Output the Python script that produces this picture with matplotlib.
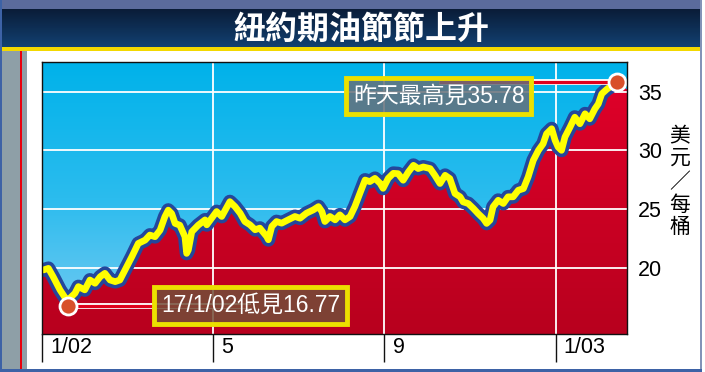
import numpy as np
import matplotlib.pyplot as plt
from matplotlib.patches import Rectangle
from matplotlib.colors import LinearSegmentedColormap
import matplotlib.transforms as mtrans


# data (x in months since Jan 2002)
months = [0.03, 0.15, 0.26, 0.42, 0.58, 0.65, 0.77, 0.85, 1.00, 1.12,
          1.24, 1.36, 1.47, 1.59, 1.71, 1.82, 1.94, 2.10, 2.25, 2.41,
          2.52, 2.64, 2.76, 2.87, 2.95, 3.03, 3.11, 3.22, 3.34, 3.38,
          3.42, 3.50, 3.65, 3.81, 3.85, 4.08, 4.20, 4.39, 4.51, 4.63,
          4.74, 4.86, 4.98, 5.09, 5.25, 5.29, 5.37, 5.48, 5.60, 5.75,
          5.91, 6.03, 6.18, 6.34, 6.46, 6.54, 6.61, 6.73, 6.85, 6.96,
          7.08, 7.20, 7.31, 7.43, 7.55, 7.66, 7.78, 7.90, 7.97, 8.09,
          8.21, 8.32, 8.44, 8.56, 8.68, 8.79, 8.91, 9.07, 9.18, 9.30,
          9.42, 9.53, 9.65, 9.77, 9.84, 9.96, 10.08, 10.19, 10.31, 10.39,
          10.47, 10.54, 10.66, 10.78, 10.89, 11.01, 11.13, 11.25, 11.36, 11.48,
          11.60, 11.71, 11.79, 11.91, 11.99, 12.06, 12.14, 12.22, 12.34, 12.45,
          12.57, 12.69, 12.80, 12.92, 13.00, 13.08, 13.20, 13.43]
price = [19.83, 19.97, 19.26, 18.14, 17.25, 17.43, 17.85, 18.42, 18.14, 18.98,
         18.70, 19.26, 19.55, 18.98, 18.84, 18.98, 19.83, 20.96, 22.09, 22.37,
         22.80, 22.66, 23.22, 24.35, 24.92, 24.63, 23.79, 23.64, 22.66, 21.24,
         21.53, 23.08, 23.64, 24.09, 23.67, 24.80, 24.38, 25.64, 25.22, 24.66,
         23.95, 23.67, 23.25, 23.39, 22.68, 22.40, 23.53, 23.95, 23.81, 24.09,
         24.38, 24.23, 24.66, 24.94, 25.22, 24.80, 23.95, 24.38, 24.09, 24.52,
         24.09, 24.38, 25.22, 26.36, 27.48, 27.34, 27.62, 27.20, 26.77, 27.62,
         28.05, 28.02, 27.46, 28.16, 28.73, 28.45, 28.59, 28.45, 27.88, 27.18,
         27.88, 27.60, 26.33, 26.05, 25.62, 25.48, 25.06, 24.63, 24.21, 23.79,
         24.07, 25.20, 25.76, 25.48, 26.05, 26.05, 26.61, 26.75, 27.74, 29.15,
         30.00, 30.56, 31.41, 31.84, 30.85, 30.28, 30.00, 31.13, 31.98, 32.82,
         32.26, 33.11, 32.68, 33.53, 33.95, 34.80, 35.20, 35.78]

x_ticks = [0, 4, 8, 12]
x_labels = ['1/02', '5', '9', '1/03']
y_ticks = [20, 25, 30, 35]

hi_point = (13.43, 35.78)
lo_point = (0.61, 16.77)
hi_text = '昨天最高見35.78'
lo_text = '17/1/02低見16.77'
title = '紐約期油節節上升'
unit_chars = ['美', '元', '／', '每', '桶']

W, H = 705, 372
fig = plt.figure(figsize=(W / 100, H / 100), dpi=100)
fig.patch.set_facecolor('white')


def px_rect(x, y, w, h, color, z=0):
    fig.add_artist(Rectangle((x / W, 1 - (y + h) / H), w / W, h / H,
                             transform=fig.transFigure, facecolor=color,
                             edgecolor='none', zorder=z))


# frame pieces
px_rect(0, 0, 700, 9, '#5b6b9c')
px_rect(0, 47, 700, 4, '#f3d800')
px_rect(2, 51, 25, 321, '#8e9fa7')
px_rect(19.5, 51, 2.2, 321, '#e8000c', z=1)
px_rect(0, 0, 2, 372, '#3d62a6', z=1)
px_rect(700, 0, 2, 372, '#8393b8', z=1)
px_rect(0, 369, 702, 3, '#3d62a6', z=1)

# title bar with gradient
ax_t = fig.add_axes([0, 1 - 47 / H, 700 / W, 38 / H])
navy = LinearSegmentedColormap.from_list('navy', ['#0a1c38', '#124171'])
ax_t.imshow(np.linspace(0, 1, 64).reshape(-1, 1), cmap=navy, aspect='auto')
ax_t.axis('off')
fig.text(361 / W, 1 - 30 / H, title, color='white', fontsize=23,
         fontweight='bold', family='Noto Sans CJK TC', ha='center', va='center')

# main chart
ax = fig.add_axes([42 / W, 1 - 334 / H, 585 / W, 272 / H])
x0, x1 = 0, 13.67
y0, y1 = 14.39, 37.51
ax.set_xlim(x0, x1)
ax.set_ylim(y0, y1)

sky = LinearSegmentedColormap.from_list('sky', ['#7ccbf2', '#2bbcee', '#00b2ea'])
ax.imshow(np.linspace(0, 1, 256).reshape(-1, 1), extent=[x0, x1, y0, y1],
          cmap=sky, aspect='auto', origin='lower', zorder=0)

xf = np.r_[x0, months, x1]
yf = np.r_[price[0], price, price[-1] - 0.6]
poly = ax.fill_between(xf, yf, y0, facecolor='none', edgecolor='none')
reds = LinearSegmentedColormap.from_list('reds', ['#b8001e', '#e2002a'])
im = ax.imshow(np.linspace(0, 1, 256).reshape(-1, 1), extent=[x0, x1, y0, y1],
               cmap=reds, aspect='auto', origin='lower', zorder=1)
im.set_clip_path(poly.get_paths()[0], transform=ax.transData)

for t in x_ticks[1:]:
    ax.axvline(t, color='white', lw=1.3, zorder=2)
for t in y_ticks:
    ax.axhline(t, color='white', lw=1.3, zorder=2)

ax.plot(months, price, color='#24479b', lw=10, solid_joinstyle='round',
        solid_capstyle='round', zorder=4)
ax.plot(months, price, color='#ffff00', lw=4.8, solid_joinstyle='round',
        solid_capstyle='round', zorder=5)

# annotation boxes and leaders
fam = ['Liberation Sans', 'Noto Sans CJK TC']
hi_box = (9.27, 34.62)
lo_box = (4.88, 16.81)
for pt, bx in [(hi_point, hi_box), (lo_point, lo_box)]:
    ax.plot([pt[0], bx[0]], [pt[1], pt[1]], color='white', lw=4.2,
            solid_capstyle='butt', zorder=6)
    ax.plot([pt[0], bx[0]], [pt[1], pt[1]], color='#e0001c', lw=2.3,
            solid_capstyle='butt', zorder=6.1)

ax.text(hi_box[0], hi_box[1], hi_text, ha='center', va='center', color='white',
        fontsize=16.5, family=fam, zorder=7,
        bbox=dict(boxstyle='square,pad=0.3', fc=(0.40, 0.44, 0.48, 0.85),
                  ec='#ece000', lw=3.5))
ax.text(lo_box[0], lo_box[1], lo_text, ha='center', va='center', color='white',
        fontsize=16.5, family=fam, zorder=7,
        bbox=dict(boxstyle='square,pad=0.3', fc=(0.45, 0.30, 0.22, 0.85),
                  ec='#ece000', lw=3.5))

ax.scatter([hi_point[0], lo_point[0]], [hi_point[1], lo_point[1]], s=150,
           color='#d8502a', edgecolor='white', linewidth=2, zorder=8)

# axes styling
for sp in ax.spines.values():
    sp.set_color('#111111')
    sp.set_linewidth(1.0)
    sp.set_zorder(9)

ax.set_xticks(x_ticks)
ax.set_xticklabels(x_labels, fontsize=15.5, family='Liberation Sans')
ax.tick_params(axis='x', length=20, width=1, pad=-18, color='#111111')
shift = mtrans.ScaledTranslation(6 / 72, 0, fig.dpi_scale_trans)
for lab in ax.get_xticklabels():
    lab.set_ha('left')
    lab.set_transform(lab.get_transform() + shift)

ax.yaxis.tick_right()
ax.set_yticks(y_ticks)
ax.set_yticklabels([str(v) for v in y_ticks], fontsize=15.5, family='Liberation Sans')
ax.tick_params(axis='y', length=0, pad=8)

# unit label, one character per row
for ch, yc in zip(unit_chars, [136, 157.5, 182, 205, 227]):
    fig.text(680 / W, 1 - yc / H, ch, fontsize=15, family='Noto Sans CJK TC',
             ha='center', va='center')

fig.savefig('out.png', dpi=100)
